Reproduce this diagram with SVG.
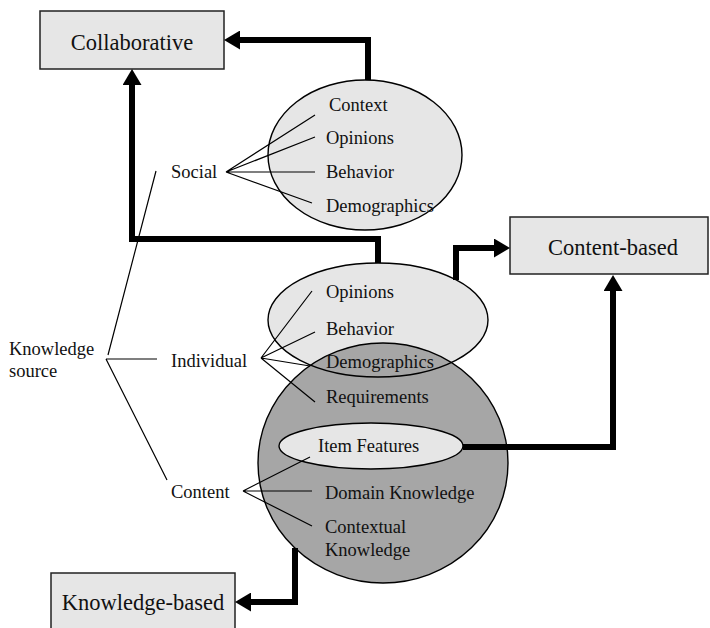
<svg xmlns="http://www.w3.org/2000/svg" width="710" height="628" viewBox="0 0 710 628">
<style>
.box{fill:#e6e6e6;stroke:#222;stroke-width:1.5}
.ell{fill:#e6e6e6;stroke:#000;stroke-width:1.4}
.big{font-family:"Liberation Serif","Times New Roman",serif;font-size:22.5px;fill:#111;text-anchor:middle}
.t{font-family:"Liberation Serif","Times New Roman",serif;font-size:18.5px;fill:#111}
.thin{stroke:#000;stroke-width:1.2;fill:none}
.thick{stroke:#000;stroke-width:6;fill:none;stroke-linejoin:miter;marker-end:url(#ah)}
</style>
<defs>
<marker id="ah" markerUnits="userSpaceOnUse" markerWidth="17" markerHeight="19" refX="0" refY="9.5" orient="auto">
<path d="M0,0 L16,9.5 L0,19 z" fill="#000"/>
</marker>
</defs>
<rect width="710" height="628" fill="#fff"/>
<g id="collaborative">
<rect class="box" x="40" y="11" width="184" height="58"/>
<text class="big" x="132" y="50">Collaborative</text>
</g>
<g id="content-based">
<rect class="box" x="510" y="217" width="198" height="57"/>
<text class="big" x="613" y="255">Content-based</text>
</g>
<g id="knowledge-based">
<rect class="box" x="51" y="573" width="184" height="70"/>
<text class="big" x="143" y="610">Knowledge-based</text>
</g>
<g id="social-ellipse">
<ellipse class="ell" cx="365" cy="155" rx="97" ry="75"/>
<text class="t" x="329" y="111">Context</text>
<text class="t" x="326" y="144">Opinions</text>
<text class="t" x="326" y="178">Behavior</text>
<text class="t" x="326" y="212">Demographics</text>
</g>
<g id="individual-content">
<ellipse cx="378" cy="320" rx="110" ry="57" fill="#e6e6e6"/>
<ellipse cx="383" cy="463" rx="125" ry="120" fill="#a6a6a6" stroke="#000" stroke-width="1.4"/>
<ellipse cx="378" cy="320" rx="110" ry="57" fill="none" stroke="#000" stroke-width="1.4"/>
<ellipse class="ell" cx="371" cy="446" rx="92" ry="23"/>
<text class="t" x="326" y="298">Opinions</text>
<text class="t" x="326" y="335">Behavior</text>
<text class="t" x="326" y="368">Demographics</text>
<text class="t" x="326" y="403">Requirements</text>
<text class="t" x="318" y="452">Item Features</text>
<text class="t" x="325" y="499">Domain Knowledge</text>
<text class="t" x="325" y="533">Contextual</text>
<text class="t" x="325" y="556">Knowledge</text>
</g>
<g id="knowledge-source">
<text class="t" x="9" y="355">Knowledge</text>
<text class="t" x="9" y="377">source</text>
</g>
<g id="social"><text class="t" x="171" y="178">Social</text></g>
<g id="individual"><text class="t" x="171" y="367">Individual</text></g>
<g id="content"><text class="t" x="171" y="498">Content</text></g>
<g id="connectors">
<path class="thin" d="M156,171 L108,355 M106,359 H157 M106,359 L167,480"/>
<path class="thin" d="M226,172 L315,115 M226,172 L315,137 M226,172 H315 M226,172 L312,203"/>
<path class="thin" d="M261,358 L312,291 M261,358 L315,332 M261,358 L310,366 M261,358 L315,402"/>
<path class="thin" d="M243,491 L310,457 M243,491 H312 M243,491 L312,526"/>
<path class="thick" d="M368,80 V40 H240"/>
<path class="thick" d="M378,263 V239 H132 V85"/>
<path class="thick" d="M456,280 V248 H494"/>
<path class="thick" d="M463,447 H613 V291"/>
<path class="thick" d="M295,548 V602 H251"/>
</g>
</svg>
